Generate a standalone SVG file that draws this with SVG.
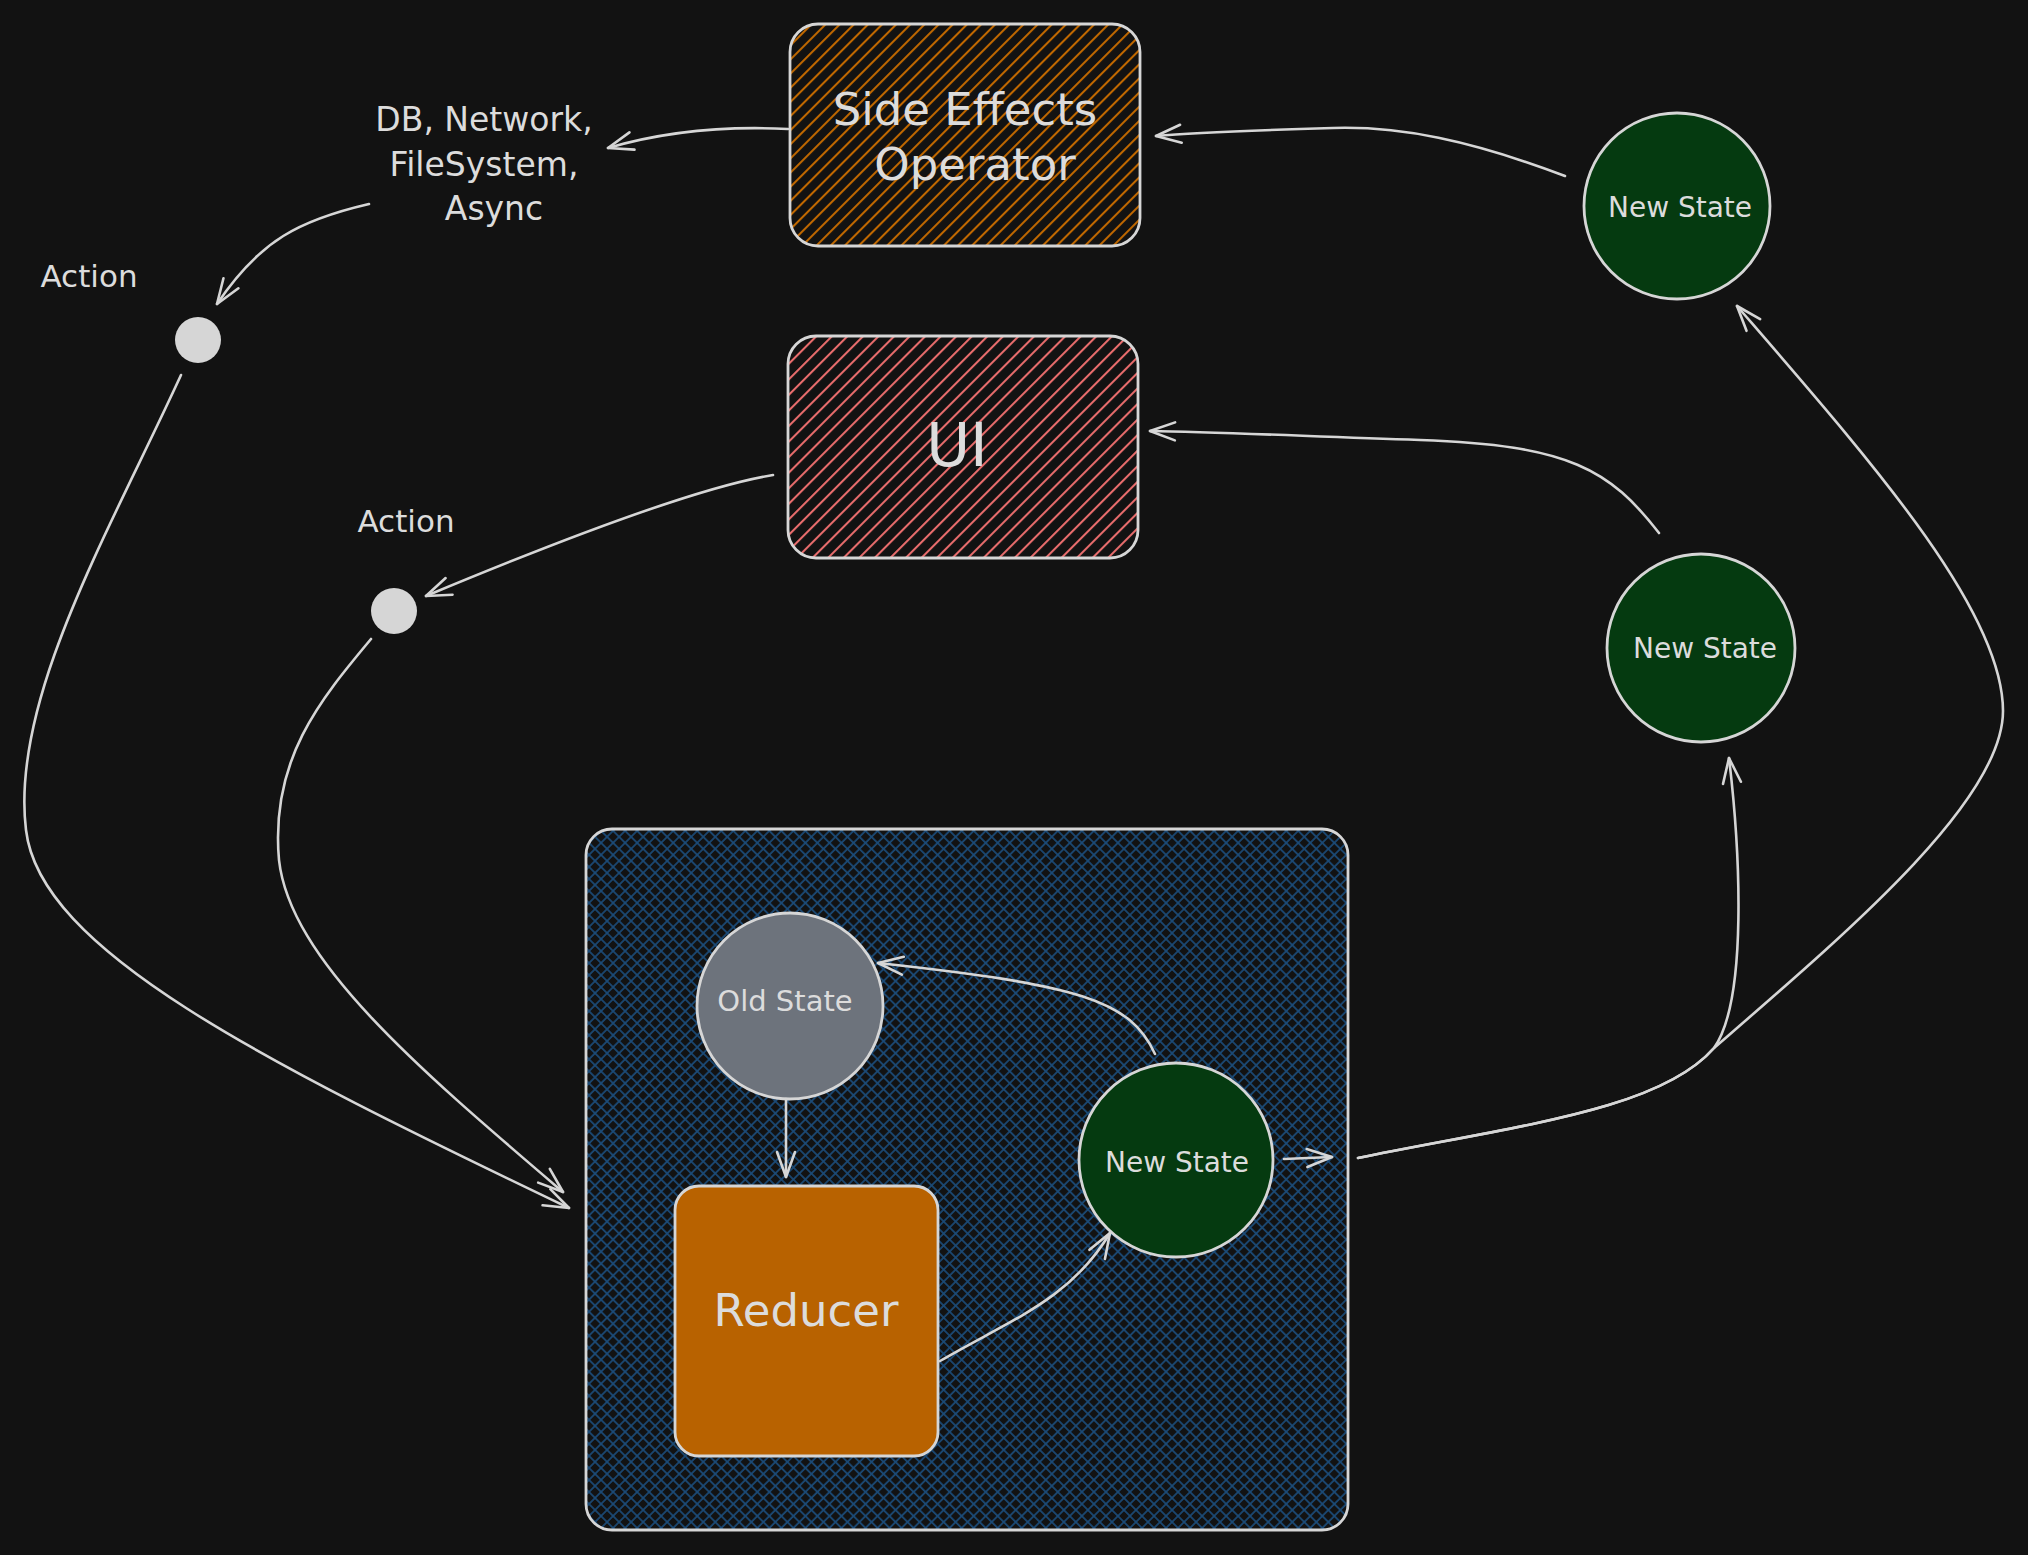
<svg xmlns="http://www.w3.org/2000/svg" width="2028" height="1555" viewBox="0 0 2028 1555">
<style>
  .bg { fill: #121212; }
  .outline { stroke: #d6d6d6; stroke-width: 2.8; }
  .conn { fill: none; stroke: #d6d6d6; stroke-width: 2.6; stroke-linecap: round; }
  .lbl { fill: #dcdcdc; font-family: "DejaVu Sans", "Liberation Sans", sans-serif; text-anchor: middle; }
</style>
<defs>
  <pattern id="hOrange" patternUnits="userSpaceOnUse" width="10" height="10" patternTransform="rotate(45)">
    <line x1="1" y1="0" x2="1" y2="10" stroke="#c06800" stroke-width="2.1"/>
  </pattern>
  <pattern id="hRed" patternUnits="userSpaceOnUse" width="11" height="11" patternTransform="rotate(45)">
    <line x1="1" y1="0" x2="1" y2="11" stroke="#e86c6c" stroke-width="2.1"/>
  </pattern>
  <pattern id="hBlue" patternUnits="userSpaceOnUse" width="8.5" height="8.5" patternTransform="rotate(45)">
    <line x1="1" y1="0" x2="1" y2="8.5" stroke="#1b4b78" stroke-width="1.7"/>
    <line x1="0" y1="1" x2="8.5" y2="1" stroke="#1b4b78" stroke-width="1.7"/>
  </pattern>
  <marker id="arr" markerUnits="userSpaceOnUse" markerWidth="40" markerHeight="30" viewBox="-30 -15 40 30" refX="0" refY="0" orient="auto">
    <path d="M -25 -9 L 0 0 L -25 9" fill="none" stroke="#d6d6d6" stroke-width="2.6" stroke-linecap="round" stroke-linejoin="round"/>
  </marker>
</defs>
<rect class="bg" x="0" y="0" width="2028" height="1555"/>

<g id="container">
  <rect x="586" y="829" width="762" height="701" rx="26" fill="#121212"/>
  <rect x="586" y="829" width="762" height="701" rx="26" fill="url(#hBlue)" class="outline"/>
</g>

<g id="side-effects">
  <rect x="790" y="24" width="350" height="222" rx="28" fill="#121212"/>
  <rect x="790" y="24" width="350" height="222" rx="28" fill="url(#hOrange)" class="outline"/>
  <text class="lbl" x="965" y="125" font-size="45">Side Effects</text>
  <text class="lbl" x="975" y="180" font-size="45">Operator</text>
</g>

<g id="ui">
  <rect x="788" y="336" width="350" height="222" rx="28" fill="#121212"/>
  <rect x="788" y="336" width="350" height="222" rx="28" fill="url(#hRed)" class="outline"/>
  <text class="lbl" x="957" y="466" font-size="60">UI</text>
</g>

<g id="io-label">
  <text class="lbl" x="484" y="131" font-size="33">DB, Network,</text>
  <text class="lbl" x="484" y="176" font-size="33">FileSystem,</text>
  <text class="lbl" x="494" y="220" font-size="33">Async</text>
</g>

<g id="action1">
  <text class="lbl" x="89" y="287" font-size="31">Action</text>
  <circle cx="198" cy="340" r="23" fill="#d6d6d6"/>
</g>

<g id="action2">
  <text class="lbl" x="406" y="532" font-size="31">Action</text>
  <circle cx="394" cy="611" r="23" fill="#d6d6d6"/>
</g>

<g id="new-state-top">
  <circle cx="1677" cy="206" r="93" fill="#053a10" class="outline"/>
  <text class="lbl" x="1680" y="217" font-size="28">New State</text>
</g>

<g id="new-state-mid">
  <circle cx="1701" cy="648" r="94" fill="#053a10" class="outline"/>
  <text class="lbl" x="1705" y="658" font-size="28">New State</text>
</g>

<g id="old-state">
  <circle cx="790" cy="1006" r="93" fill="#6d737c" class="outline"/>
  <text class="lbl" x="785" y="1011" font-size="29">Old State</text>
</g>

<g id="reducer">
  <rect x="675" y="1186" width="263" height="270" rx="24" fill="#b86200" class="outline"/>
  <text class="lbl" x="806" y="1326" font-size="45">Reducer</text>
</g>

<g id="new-state-inner">
  <circle cx="1176" cy="1160" r="97" fill="#053a10" class="outline"/>
  <text class="lbl" x="1177" y="1172" font-size="28">New State</text>
</g>

<g id="connectors">
  <path class="conn" marker-end="url(#arr)" d="M 788 129 Q 690 124 608 148"/>
  <path class="conn" marker-end="url(#arr)" d="M 1565 176 C 1470 140, 1400 126, 1333 128 S 1200 132, 1156 136"/>
  <path class="conn" marker-end="url(#arr)" d="M 369 204 C 300 220, 260 240, 217 304"/>
  <path class="conn" marker-end="url(#arr)" d="M 181 375 C 110 530, 10 700, 26 830 C 40 950, 260 1060, 569 1208"/>
  <path class="conn" marker-end="url(#arr)" d="M 773 475 Q 680 490 426 596"/>
  <path class="conn" marker-end="url(#arr)" d="M 371 639 C 320 700, 270 760, 279 860 C 290 960, 420 1070, 563 1192"/>
  <path class="conn" marker-end="url(#arr)" d="M 1659 533 C 1610 470, 1570 445, 1420 440 C 1300 436, 1220 432, 1150 431"/>
  <path class="conn" marker-end="url(#arr)" d="M 1358 1158 C 1520 1125, 1660 1110, 1714 1048 C 1748 1000, 1740 850, 1729 758"/>
  <path class="conn" marker-end="url(#arr)" d="M 1358 1158 C 1520 1125, 1660 1110, 1714 1048 C 1850 930, 2003 800, 2003 711 C 2003 610, 1870 460, 1737 306"/>
  <path class="conn" marker-end="url(#arr)" d="M 786 1099 L 786 1177"/>
  <path class="conn" marker-end="url(#arr)" d="M 940 1361 C 1010 1320, 1070 1300, 1110 1233"/>
  <path class="conn" marker-end="url(#arr)" d="M 1155 1054 C 1130 1000, 1080 985, 878 963"/>
  <path class="conn" marker-end="url(#arr)" d="M 1284 1159 L 1332 1157"/>
</g>
</svg>
